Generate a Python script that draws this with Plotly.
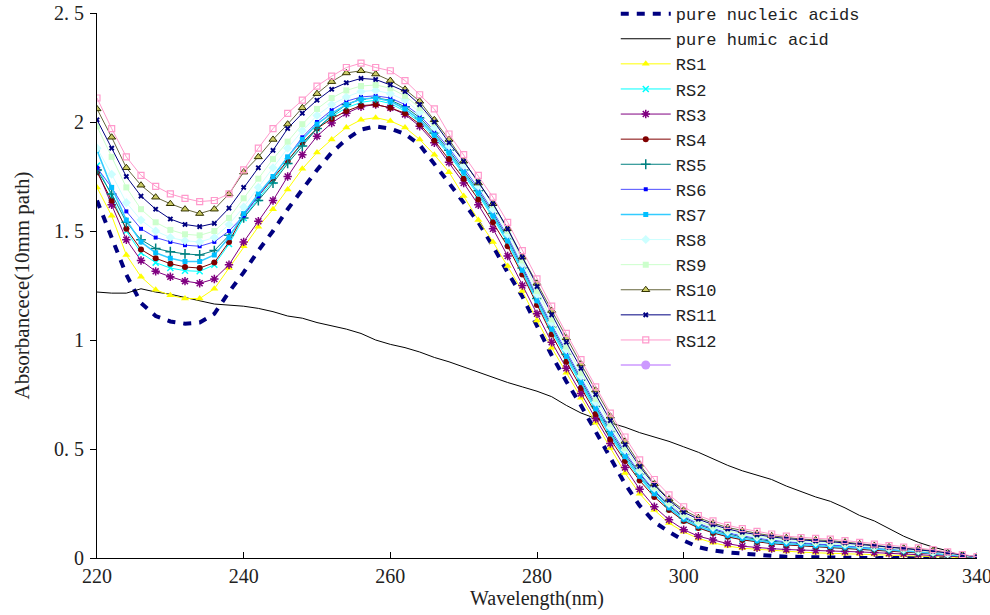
import plotly.graph_objects as go

wavelength = list(range(220, 341, 2))

nucleic = [1.64, 1.47, 1.30, 1.17, 1.11, 1.085, 1.075, 1.08, 1.12, 1.22,
           1.31, 1.41, 1.50, 1.60, 1.69, 1.78, 1.86, 1.92, 1.965, 1.98,
           1.97, 1.945, 1.895, 1.81, 1.72, 1.63, 1.54, 1.43, 1.31, 1.20,
           1.06, 0.93, 0.81, 0.70, 0.58, 0.46, 0.34, 0.24, 0.165, 0.12,
           0.08, 0.05, 0.035, 0.026, 0.02, 0.013, 0.01, 0.006, 0.004, 0.002,
           0.001, 0, 0, 0, 0, 0, 0, 0, 0, 0, 0]
humic = [1.22, 1.215, 1.215, 1.235, 1.22, 1.21, 1.195, 1.18, 1.165, 1.16,
         1.155, 1.145, 1.13, 1.11, 1.10, 1.08, 1.065, 1.05, 1.03, 1.00,
         0.98, 0.965, 0.945, 0.92, 0.90, 0.876, 0.855, 0.83, 0.805, 0.785,
         0.765, 0.74, 0.70, 0.665, 0.64, 0.62, 0.60, 0.575, 0.555, 0.535,
         0.51, 0.485, 0.455, 0.425, 0.40, 0.38, 0.36, 0.33, 0.305, 0.28,
         0.26, 0.23, 0.195, 0.17, 0.135, 0.10, 0.072, 0.05, 0.033, 0.008, 0.0]
rs1 = [1.70, 1.57, 1.39, 1.29, 1.23, 1.205, 1.19, 1.19, 1.235, 1.33,
       1.43, 1.52, 1.60, 1.69, 1.785, 1.86, 1.92, 1.975, 2.01, 2.02,
       2.005, 1.975, 1.92, 1.85, 1.77, 1.66, 1.55, 1.45, 1.34, 1.225,
       1.09, 0.965, 0.85, 0.735, 0.62, 0.505, 0.39, 0.295, 0.22, 0.16,
       0.12, 0.09, 0.07, 0.055, 0.045, 0.04, 0.035, 0.03, 0.027, 0.024,
       0.022, 0.02, 0.018, 0.016, 0.014, 0.012, 0.01, 0.008, 0.005, 0.003, 0.0]
rs2 = [1.80, 1.66, 1.50, 1.40, 1.355, 1.33, 1.318, 1.315, 1.345, 1.44,
       1.56, 1.65, 1.73, 1.82, 1.90, 1.97, 2.025, 2.065, 2.09, 2.10,
       2.085, 2.05, 2.00, 1.93, 1.85, 1.76, 1.665, 1.56, 1.445, 1.31,
       1.17, 1.04, 0.915, 0.795, 0.675, 0.56, 0.455, 0.365, 0.29, 0.225,
       0.172, 0.14, 0.117, 0.099, 0.085, 0.075, 0.067, 0.061, 0.057, 0.053,
       0.05, 0.047, 0.043, 0.039, 0.035, 0.03, 0.025, 0.02, 0.014, 0.007, 0.002]
rs3 = [1.78, 1.62, 1.46, 1.365, 1.315, 1.29, 1.27, 1.26, 1.28, 1.345,
       1.45, 1.545, 1.64, 1.75, 1.85, 1.935, 1.995, 2.04, 2.07, 2.08,
       2.065, 2.035, 1.98, 1.905, 1.815, 1.72, 1.62, 1.51, 1.385, 1.25,
       1.12, 0.99, 0.87, 0.755, 0.64, 0.525, 0.415, 0.315, 0.235, 0.175,
       0.13, 0.10, 0.082, 0.066, 0.054, 0.047, 0.043, 0.039, 0.036, 0.034,
       0.032, 0.03, 0.028, 0.025, 0.022, 0.019, 0.016, 0.012, 0.007, 0.004, 0.002]
rs4 = [1.77, 1.64, 1.51, 1.415, 1.375, 1.35, 1.335, 1.33, 1.355, 1.45,
       1.575, 1.66, 1.74, 1.82, 1.905, 1.97, 2.015, 2.05, 2.075, 2.08,
       2.065, 2.04, 1.99, 1.915, 1.83, 1.74, 1.645, 1.54, 1.43, 1.30,
       1.16, 1.025, 0.90, 0.78, 0.66, 0.545, 0.445, 0.355, 0.28, 0.22,
       0.17, 0.138, 0.115, 0.097, 0.083, 0.073, 0.066, 0.06, 0.056, 0.052,
       0.049, 0.046, 0.042, 0.038, 0.034, 0.029, 0.024, 0.019, 0.013, 0.007, 0.002]
rs5 = [1.78, 1.67, 1.54, 1.46, 1.42, 1.405, 1.395, 1.39, 1.41, 1.48,
       1.56, 1.64, 1.72, 1.81, 1.89, 1.97, 2.03, 2.08, 2.105, 2.11,
       2.10, 2.07, 2.02, 1.95, 1.87, 1.78, 1.685, 1.58, 1.465, 1.33,
       1.19, 1.06, 0.935, 0.815, 0.695, 0.58, 0.475, 0.385, 0.305, 0.24,
       0.185, 0.153, 0.13, 0.111, 0.096, 0.085, 0.077, 0.071, 0.066, 0.062,
       0.058, 0.054, 0.05, 0.045, 0.04, 0.035, 0.03, 0.024, 0.017, 0.009, 0.003]
rs6 = [1.79, 1.70, 1.59, 1.51, 1.47, 1.45, 1.435, 1.43, 1.45, 1.50,
       1.57, 1.66, 1.75, 1.84, 1.93, 2.00, 2.055, 2.095, 2.115, 2.12,
       2.11, 2.08, 2.03, 1.96, 1.88, 1.79, 1.695, 1.59, 1.475, 1.34,
       1.20, 1.07, 0.945, 0.825, 0.705, 0.59, 0.485, 0.39, 0.31, 0.245,
       0.19, 0.158, 0.135, 0.116, 0.101, 0.09, 0.082, 0.075, 0.07, 0.066,
       0.062, 0.058, 0.053, 0.048, 0.043, 0.037, 0.032, 0.025, 0.018, 0.01, 0.004]
rs7 = [1.87, 1.70, 1.55, 1.45, 1.40, 1.375, 1.36, 1.36, 1.39, 1.47,
       1.58, 1.67, 1.75, 1.84, 1.92, 1.99, 2.04, 2.08, 2.105, 2.11,
       2.095, 2.06, 2.01, 1.94, 1.86, 1.77, 1.675, 1.57, 1.455, 1.32,
       1.18, 1.05, 0.925, 0.805, 0.685, 0.57, 0.465, 0.375, 0.295, 0.23,
       0.178, 0.146, 0.123, 0.104, 0.09, 0.079, 0.071, 0.065, 0.06, 0.056,
       0.053, 0.05, 0.046, 0.042, 0.037, 0.032, 0.027, 0.021, 0.015, 0.008, 0.003]
rs8 = [1.88, 1.76, 1.63, 1.55, 1.50, 1.47, 1.455, 1.45, 1.47, 1.53,
       1.61, 1.70, 1.79, 1.88, 1.96, 2.03, 2.08, 2.115, 2.14, 2.145,
       2.13, 2.10, 2.045, 1.975, 1.89, 1.80, 1.705, 1.60, 1.485, 1.35,
       1.21, 1.08, 0.955, 0.835, 0.715, 0.60, 0.495, 0.40, 0.32, 0.25,
       0.195, 0.163, 0.14, 0.121, 0.106, 0.095, 0.087, 0.08, 0.075, 0.07,
       0.066, 0.062, 0.056, 0.05, 0.045, 0.039, 0.034, 0.027, 0.019, 0.011, 0.004]
rs9 = [1.98, 1.84, 1.70, 1.60, 1.54, 1.505, 1.485, 1.48, 1.50, 1.56,
       1.65, 1.74, 1.83, 1.91, 1.99, 2.06, 2.11, 2.145, 2.165, 2.17,
       2.155, 2.12, 2.065, 1.995, 1.91, 1.82, 1.725, 1.62, 1.50, 1.365,
       1.225, 1.095, 0.97, 0.85, 0.73, 0.615, 0.505, 0.41, 0.325, 0.255,
       0.20, 0.168, 0.145, 0.126, 0.111, 0.10, 0.092, 0.085, 0.079, 0.074,
       0.07, 0.065, 0.059, 0.053, 0.047, 0.041, 0.036, 0.029, 0.021, 0.012, 0.005]
rs10 = [2.06, 1.93, 1.79, 1.71, 1.655, 1.625, 1.60, 1.58, 1.60, 1.67,
        1.77, 1.84, 1.92, 1.99, 2.065, 2.13, 2.185, 2.225, 2.235, 2.22,
        2.19, 2.15, 2.095, 2.01, 1.92, 1.82, 1.72, 1.625, 1.51, 1.38,
        1.26, 1.135, 1.01, 0.89, 0.77, 0.65, 0.535, 0.43, 0.34, 0.27,
        0.22, 0.185, 0.16, 0.14, 0.125, 0.113, 0.102, 0.093, 0.087, 0.083,
        0.08, 0.073, 0.065, 0.057, 0.051, 0.045, 0.041, 0.034, 0.025, 0.014, 0.005]
rs11 = [2.01, 1.88, 1.75, 1.66, 1.60, 1.555, 1.53, 1.52, 1.535, 1.605,
        1.70, 1.79, 1.87, 1.97, 2.04, 2.10, 2.15, 2.18, 2.20, 2.195,
        2.17, 2.14, 2.08, 2.00, 1.905, 1.82, 1.725, 1.625, 1.51, 1.38,
        1.245, 1.115, 0.99, 0.87, 0.75, 0.63, 0.52, 0.42, 0.335, 0.265,
        0.21, 0.178, 0.153, 0.133, 0.118, 0.106, 0.097, 0.089, 0.083, 0.078,
        0.075, 0.069, 0.062, 0.055, 0.049, 0.043, 0.038, 0.031, 0.023, 0.013, 0.005]
rs12 = [2.11, 1.97, 1.84, 1.755, 1.705, 1.67, 1.65, 1.635, 1.64, 1.67,
        1.78, 1.88, 1.97, 2.04, 2.10, 2.165, 2.21, 2.25, 2.27, 2.25,
        2.235, 2.19, 2.125, 2.06, 1.945, 1.85, 1.755, 1.655, 1.54, 1.41,
        1.28, 1.155, 1.03, 0.91, 0.785, 0.665, 0.555, 0.45, 0.36, 0.29,
        0.235, 0.195, 0.17, 0.15, 0.135, 0.122, 0.11, 0.10, 0.094, 0.09,
        0.087, 0.08, 0.072, 0.064, 0.057, 0.05, 0.046, 0.038, 0.028, 0.016, 0.006]
extra = [None]

y_tickvals = [0, 0.5, 1, 1.5, 2, 2.5]
y_ticktext = ["0", "0. 5", "1", "1. 5", "2", "2. 5"]
x_tickvals = [220, 240, 260, 280, 300, 320, 340]

SERIF = "Liberation Serif"
MONO = "Liberation Mono"

fig = go.Figure()

fig.add_trace(go.Scatter(x=wavelength, y=nucleic, name="pure nucleic acids", mode="lines",
                         line=dict(color="#000080", width=4, dash="8px,8px")))
fig.add_trace(go.Scatter(x=wavelength, y=humic, name="pure humic acid", mode="lines",
                         line=dict(color="#000000", width=1)))

styles = [
    ("RS1", rs1, "#FFFF00", dict(symbol="triangle-up", size=7, color="#FFFF00"), 1),
    ("RS2", rs2, "#00FFFF", dict(symbol="x-thin-open", size=6, color="#00FFFF", line=dict(width=1.5, color="#00FFFF")), 1),
    ("RS3", rs3, "#800080", dict(symbol="asterisk-open", size=7, color="#800080", line=dict(width=1.5, color="#800080")), 1),
    ("RS4", rs4, "#800000", dict(symbol="circle", size=6, color="#800000"), 1),
    ("RS5", rs5, "#008080", dict(symbol="cross-thin-open", size=7, color="#008080", line=dict(width=1.5, color="#008080")), 1),
    ("RS6", rs6, "#4D4DFF", dict(symbol="square", size=4, color="#0000FF"), 1),
    ("RS7", rs7, "#33CCFF", dict(symbol="square", size=5, color="#00BFFF"), 1.5),
    ("RS8", rs8, "#CCFFFF", dict(symbol="diamond", size=7, color="#CCFFFF"), 1),
    ("RS9", rs9, "#CCFFCC", dict(symbol="square", size=6, color="#CCFFCC"), 1),
    ("RS10", rs10, "#66663D", dict(symbol="triangle-up", size=7, color="#CCCC66", line=dict(width=1, color="#333300")), 1),
    ("RS11", rs11, "#000080", dict(symbol="x", size=5, color="#000080"), 1),
    ("RS12", rs12, "#FF99CC", dict(symbol="square-open", size=6, color="#FF99CC", line=dict(width=1.2, color="#FF99CC")), 1),
]
for name, vals, col, mk, w in styles:
    fig.add_trace(go.Scatter(x=wavelength, y=vals, name=name, mode="lines+markers",
                             line=dict(color=col, width=w), marker=mk))

fig.add_trace(go.Scatter(x=extra, y=extra, name="", mode="lines+markers",
                         line=dict(color="#CC99FF", width=1.5),
                         marker=dict(symbol="circle", size=9, color="#CC99FF")))

fig.update_layout(
    width=990, height=615,
    margin=dict(l=97, r=13, t=13, b=57, autoexpand=False),
    paper_bgcolor="white", plot_bgcolor="white",
    font=dict(family=SERIF, size=20, color="#222222"),
    showlegend=True,
    legend=dict(x=0.5895, y=1.031, xanchor="left", yanchor="top",
                bgcolor="rgba(0,0,0,0)", borderwidth=0, maxheight=600,
                font=dict(family=MONO, size=17, color="#222222"),
                itemwidth=50, tracegroupgap=0),
    xaxis=dict(range=[220, 340], tickvals=x_tickvals, ticks="inside", ticklen=6,
               tickcolor="black", showline=True, linecolor="black", linewidth=1,
               showgrid=False, zeroline=False, automargin=False, ticklabeloverflow="allow",
               title=dict(text="Wavelength(nm)", standoff=0, font=dict(family=SERIF, size=20)),
               tickfont=dict(family=SERIF, size=20)),
    yaxis=dict(range=[0, 2.5], tickvals=y_tickvals, ticktext=y_ticktext, ticks="outside",
               ticklen=6, tickcolor="black", showline=True, linecolor="black", linewidth=1,
               showgrid=False, zeroline=False, automargin=False, ticklabelstandoff=2,
               ticklabeloverflow="allow",
               title=dict(text="Absorbancece(10mm path)", standoff=18, font=dict(family=SERIF, size=21)),
               tickfont=dict(family=SERIF, size=20)),
)

fig.write_html("out.html", config={"displayModeBar": False},
               post_script="document.body.style.margin='0';")
